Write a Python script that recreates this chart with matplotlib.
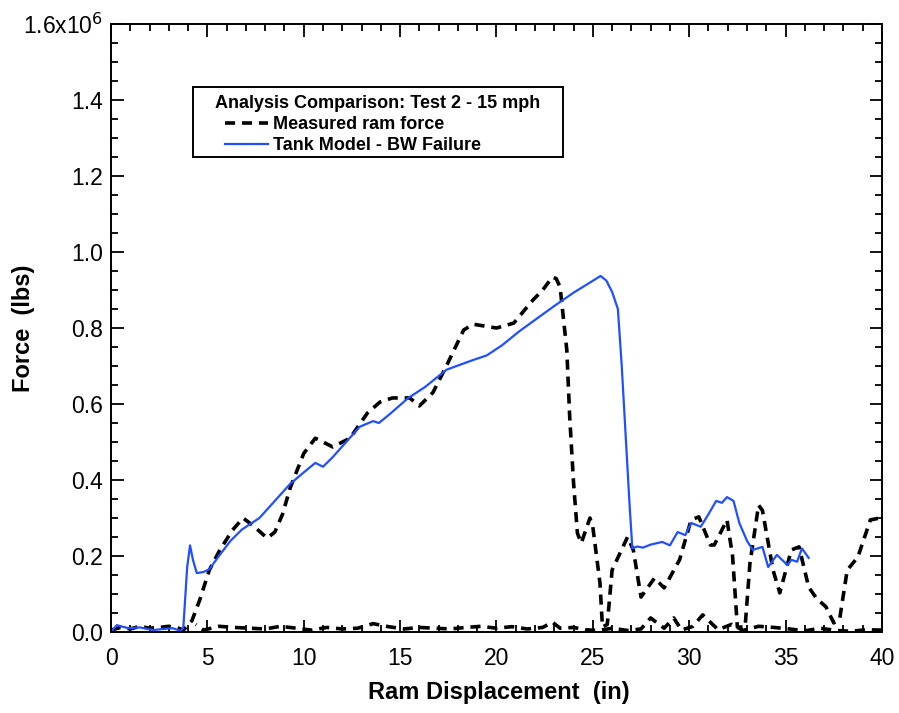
import matplotlib
matplotlib.use("Agg")
import matplotlib.pyplot as plt
from matplotlib.patches import Rectangle
from matplotlib.ticker import MultipleLocator, FixedLocator, FixedFormatter

plt.rcParams['font.family'] = ['Liberation Sans', 'DejaVu Sans']

# measured ram force, loading part (force in 1e6 lbs)
meas_x = [0, 0.5, 1.0, 1.5, 2.0, 2.5, 3.0, 3.5, 3.75, 4.2, 4.6, 5.1, 5.65, 6.3,
          6.85, 7.37, 8.1, 8.5, 8.9, 9.3, 10.0, 10.6, 11.0, 11.5, 12.4, 13.3,
          13.95, 14.6, 15.5, 16.0, 16.7, 17.4, 18.3, 18.8, 19.4, 20.0, 20.9,
          21.5, 21.9, 22.4, 22.9, 23.1, 23.3, 23.65, 23.8, 24.0, 24.2, 24.4,
          24.85, 25.0, 25.37, 25.5, 25.75, 26.0, 26.8, 27.1, 27.5, 28.2, 28.7,
          29.5, 30.1, 30.5, 31.1, 31.3, 31.96, 32.25, 32.5, 32.9, 33.15, 33.6,
          33.8, 34.35, 34.7, 35.3, 35.7, 36.2, 36.6, 37.1, 37.5, 37.8, 38.2,
          38.75, 39.4, 39.9, 40.0]
meas_f = [0.005, 0.012, 0.008, 0.015, 0.01, 0.012, 0.015, 0.01, 0.005, 0.03,
          0.084, 0.163, 0.216, 0.268, 0.30, 0.28, 0.247, 0.263, 0.31, 0.38,
          0.47, 0.51, 0.50, 0.487, 0.51, 0.576, 0.605, 0.616, 0.616, 0.595,
          0.63, 0.70, 0.795, 0.81, 0.805, 0.80, 0.813, 0.85, 0.874, 0.90,
          0.934, 0.93, 0.908, 0.742, 0.566, 0.392, 0.26, 0.234, 0.30, 0.276,
          0.129, 0.013, 0.02, 0.163, 0.25, 0.216, 0.092, 0.142, 0.116, 0.19,
          0.295, 0.303, 0.229, 0.229, 0.295, 0.20, 0.013, 0.013, 0.18, 0.334,
          0.32, 0.163, 0.103, 0.216, 0.224, 0.118, 0.089, 0.066, 0.024, 0.032,
          0.163, 0.197, 0.295, 0.30, 0.30]

# measured ram force, return trace near zero
ret_x = [40, 39.2, 38.4, 37.6, 36.8, 36.0, 35.2, 34.4, 33.6, 32.8, 32.2, 31.5,
         30.7, 30.2, 29.6, 29.2, 28.7, 28.0, 27.5, 26.8, 26.0, 25.3, 24.6,
         24.0, 23.3, 22.9, 22.4, 21.6, 20.8, 20.0, 19.2, 18.4, 17.6, 16.8,
         16.0, 15.2, 14.4, 13.6, 12.8, 12.0, 11.2, 10.4, 9.6, 8.8, 8.0, 7.2,
         6.4, 5.6, 4.8, 4.4]
ret_f = [0.005, 0.006, 0.002, 0.004, 0.01, 0.003, 0.008, 0.012, 0.015, 0.004,
         0.02, 0.006, 0.045, 0.015, 0.005, 0.037, 0.01, 0.037, 0.008, 0.004,
         0.01, 0.004, 0.006, 0.012, 0.01, 0.026, 0.012, 0.008, 0.014, 0.01,
         0.015, 0.012, 0.008, 0.01, 0.012, 0.008, 0.014, 0.022, 0.01, 0.008,
         0.012, 0.005, 0.01, 0.015, 0.008, 0.01, 0.012, 0.015, 0.005, 0.02]

# tank model - BW failure
tank_x = [0, 0.3, 0.9, 1.5, 2.2, 2.7, 3.2, 3.6, 3.75, 3.95, 4.1, 4.25, 4.45,
          4.8, 5.1, 5.6, 6.2, 6.8, 7.7, 8.5, 9.3, 10.0, 10.6, 11.0, 11.5,
          12.2, 12.9, 13.6, 13.9, 14.5, 15.4, 16.3, 17.4, 18.2, 18.8, 19.5,
          20.3, 21.2, 22.1, 23.0, 24.0, 24.8, 25.4, 25.7, 26.0, 26.3, 26.5,
          26.7, 26.9, 27.05, 27.3, 27.6, 28.0, 28.6, 29.0, 29.4, 29.8, 30.1,
          30.6, 31.0, 31.4, 31.7, 31.96, 32.3, 32.6, 33.0, 33.3, 33.8, 34.1,
          34.55, 35.1, 35.3, 35.6, 35.85, 36.2]
tank_f = [0.0, 0.018, 0.01, 0.012, 0.005, 0.008, 0.01, 0.003, 0.01, 0.17,
          0.228, 0.19, 0.155, 0.158, 0.165, 0.20, 0.24, 0.27, 0.30, 0.345,
          0.39, 0.42, 0.445, 0.435, 0.46, 0.50, 0.54, 0.555, 0.55, 0.575,
          0.615, 0.645, 0.69, 0.705, 0.716, 0.728, 0.755, 0.792, 0.825, 0.858,
          0.893, 0.918, 0.937, 0.925, 0.895, 0.85, 0.70, 0.52, 0.34, 0.22,
          0.225, 0.222, 0.23, 0.237, 0.228, 0.263, 0.255, 0.287, 0.277, 0.31,
          0.345, 0.34, 0.355, 0.345, 0.287, 0.24, 0.216, 0.224, 0.171, 0.203,
          0.176, 0.19, 0.185, 0.22, 0.195]

ytick_vals = [0.0, 0.2, 0.4, 0.6, 0.8, 1.0, 1.2, 1.4, 1.6]
ytick_labels = ['0.0', '0.2', '0.4', '0.6', '0.8', '1.0', '1.2', '1.4',
                '1.6x10$^6$']
legend_title = 'Analysis Comparison: Test 2 - 15 mph'

fig = plt.figure(figsize=(8.99, 7.13), dpi=100)
ax = fig.add_axes([0.1235, 0.1136, 0.8575, 0.8527])

dash = (2.8, 1.9)
ax.plot(meas_x, meas_f, color='black', lw=2.6, dashes=dash,
        label='Measured ram force')
ax.plot(ret_x, ret_f, color='black', lw=2.6, dashes=dash)
ax.plot(tank_x, tank_f, color='#1f4fff', lw=1.6,
        label='Tank Model - BW Failure')

ax.set_xlim(0, 40)
ax.set_ylim(0, 1.6)
ax.xaxis.set_major_locator(MultipleLocator(5))
ax.xaxis.set_minor_locator(MultipleLocator(1))
ax.yaxis.set_major_locator(FixedLocator(ytick_vals))
ax.yaxis.set_major_formatter(FixedFormatter(ytick_labels))
ax.yaxis.set_minor_locator(MultipleLocator(0.05))
ax.tick_params(which='both', direction='in', top=True, right=True,
               labelsize=16.5, width=1.3)
ax.tick_params(which='major', length=9)
ax.tick_params(which='minor', length=5)
ax.tick_params(axis='y', pad=6)
ax.tick_params(axis='x', pad=11)
for s in ax.spines.values():
    s.set_linewidth(1.4)

ax.set_xlabel('Ram Displacement  (in)', fontsize=17, fontweight='bold')
ax.set_ylabel('Force  (lbs)', fontsize=17, fontweight='bold')
ax.xaxis.set_label_coords(0.503, -0.08)
ax.yaxis.set_label_coords(-0.099, 0.5)

# legend: frame + title drawn by hand, entries from ax.legend
ax.add_patch(Rectangle((0.1064, 0.7813), 0.4799, 0.1151,
                       transform=ax.transAxes, facecolor='white',
                       edgecolor='black', lw=1.4, zorder=4))
ax.text(0.1349, 0.870, legend_title, transform=ax.transAxes,
        fontsize=13, fontweight='bold', ha='left', va='center', zorder=5)
leg = ax.legend(loc='upper left', bbox_to_anchor=(0.1479, 0.848),
                borderaxespad=0, borderpad=0, frameon=False,
                prop={'weight': 'bold', 'size': 13},
                handlelength=2.4, labelspacing=0.2, handletextpad=0.25)
leg.set_zorder(6)

fig.savefig('out.png', dpi=100)
